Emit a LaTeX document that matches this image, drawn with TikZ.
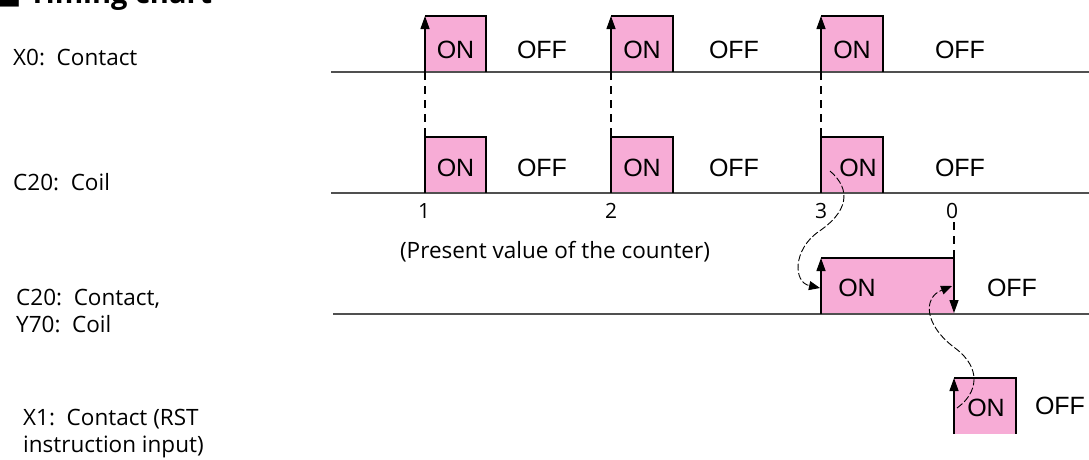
\documentclass[tikz,border=0pt]{standalone}
\usepackage{fontspec}
\setmainfont{Open Sans}
\newfontfamily\chartfont{Liberation Sans}
\newfontfamily\symfont{DejaVu Sans}
\usetikzlibrary{arrows.meta}
\definecolor{pulsepink}{RGB}{247,172,214}
\definecolor{basegray}{RGB}{80,80,80}
\begin{document}
\begin{tikzpicture}[x=1pt,y=-1pt,
  sigline/.style={draw=basegray, line width=2pt},
  edgeline/.style={draw=black, line width=1.3pt},
  upedge/.style={draw=black, line width=1.3pt, -{Triangle[length=13pt,width=9pt]}},
  guide/.style={draw=black, line width=1.2pt, dash pattern=on 8pt off 6pt},
  curvearrow/.style={draw=black, line width=0.9pt, dash pattern=on 7pt off 2.5pt, -{Triangle[length=11pt,width=9pt]}},
  lbl/.style={font=\fontsize{22.5}{27}\selectfont, anchor=west, inner sep=0pt, align=left},
  onoff/.style={font=\chartfont\fontsize{25}{27}\selectfont, inner sep=0pt},
  numlbl/.style={font=\fontsize{21}{23}\selectfont, inner sep=0pt}
]
\useasboundingbox (0,0) rectangle (1089,459);

% title (cut off at top, as in the reference)
\begin{scope}
\clip (0,0) rectangle (1089,459);
\node[anchor=base west, inner sep=0pt, font=\bfseries\fontsize{29}{31}\selectfont] (title) at (-6,3) {{\symfont ■}\ Timing chart};
\end{scope}

% left labels
\node[lbl] (lx0) at (13,57) {X0:\ \ Contact};
\node[lbl] (lc20) at (13,182) {C20:\ \ Coil};
\node[lbl] (lc20c) at (16,311) {C20:\ \ Contact,\\Y70:\ \ Coil};
\node[lbl] (lx1) at (23,434) {X1:\ \ Contact (RST\\instruction input)};

% ---------- row 1: X0 ----------
\foreach \a/\b in {425/486, 611/673, 821/883}{
  \fill[pulsepink] (\a,16) rectangle (\b,72);
}
\draw[sigline] (331,72) -- (1089,72);
\foreach \a/\b in {425/486, 611/673, 821/883}{
  \draw[upedge] (\a,72) -- (\a,16);
  \draw[edgeline] (\a,16) -- (\b,16) -- (\b,72);
}
\node[onoff] (on1a) at (455.5,50) {ON};
\node[onoff] (off1a) at (542,50) {OFF};
\node[onoff] (on1b) at (642,50) {ON};
\node[onoff] (off1b) at (734,50) {OFF};
\node[onoff] (on1c) at (852,50) {ON};
\node[onoff] (off1c) at (960,50) {OFF};

% ---------- row 2: C20 coil ----------
\foreach \a/\b in {425/486, 611/673, 821/883}{
  \fill[pulsepink] (\a,137) rectangle (\b,193);
}
\draw[sigline] (331,193) -- (1089,193);
\foreach \a/\b in {425/486, 611/673, 821/883}{
  \draw[edgeline] (\a,193) -- (\a,137) -- (\b,137) -- (\b,193);
}
\node[onoff] (on2a) at (455.5,168) {ON};
\node[onoff] (off2a) at (542,168) {OFF};
\node[onoff] (on2b) at (642,168) {ON};
\node[onoff] (off2b) at (734,168) {OFF};
\node[onoff] (on2c) at (858,168) {ON};
\node[onoff] (off2c) at (960,168) {OFF};

% dashed guides row1 -> row2
\coordinate (g1t) at (425,72); \coordinate (g1b) at (425,137);
\coordinate (g2t) at (611,72); \coordinate (g2b) at (611,137);
\coordinate (g3t) at (821,72); \coordinate (g3b) at (821,137);
\draw[guide] (g1t) -- (g1b);
\draw[guide] (g2t) -- (g2b);
\draw[guide] (g3t) -- (g3b);

% counter values
\node[numlbl] (n1) at (424,211) {1};
\node[numlbl] (n2) at (611,211) {2};
\node[numlbl] (n3) at (821,211) {3};
\node[numlbl] (n0) at (952,211) {0};
\node[font=\fontsize{22.5}{24}\selectfont, inner sep=0pt] (pv) at (555,252) {(Present value of the counter)};

% ---------- row 3: C20 contact / Y70 coil ----------
\fill[pulsepink] (821,258) rectangle (954,314);
\draw[sigline] (333,314) -- (1089,314);
\draw[upedge] (821,314) -- (821,258);
\draw[edgeline] (821,258) -- (954,258);
\draw[draw=black, line width=1.3pt, -{Triangle[length=13pt,width=9pt]}] (954,258) -- (954,313);
\node[onoff] (on3) at (857,288) {ON};
\node[onoff] (off3) at (1012,288) {OFF};
\coordinate (g0t) at (954,222);
\coordinate (g0b) at (954,258);
\draw[guide] (g0t) -- (g0b);

% ---------- row 4: X1 ----------
\fill[pulsepink] (954,378) rectangle (1016,434);
\draw[upedge] (954,434) -- (954,378);
\draw[edgeline] (954,378) -- (1016,378) -- (1016,434);
\node[onoff] (on4) at (986,408) {ON};
\node[onoff] (off4) at (1060,406) {OFF};

% curved causal arrows
\coordinate (c1s) at (830,171);
\coordinate (c1e) at (820,288);
\draw[curvearrow] (c1s) .. controls (852,190) and (848,212) .. (818,232) .. controls (793,250) and (793,282) .. (c1e);
\coordinate (c2s) at (957,408);
\coordinate (c2e) at (952,286);
\draw[curvearrow] (c2s) .. controls (978,393) and (982,368) .. (955,348) .. controls (925,326) and (922,298) .. (c2e);
\end{tikzpicture}
\end{document}
